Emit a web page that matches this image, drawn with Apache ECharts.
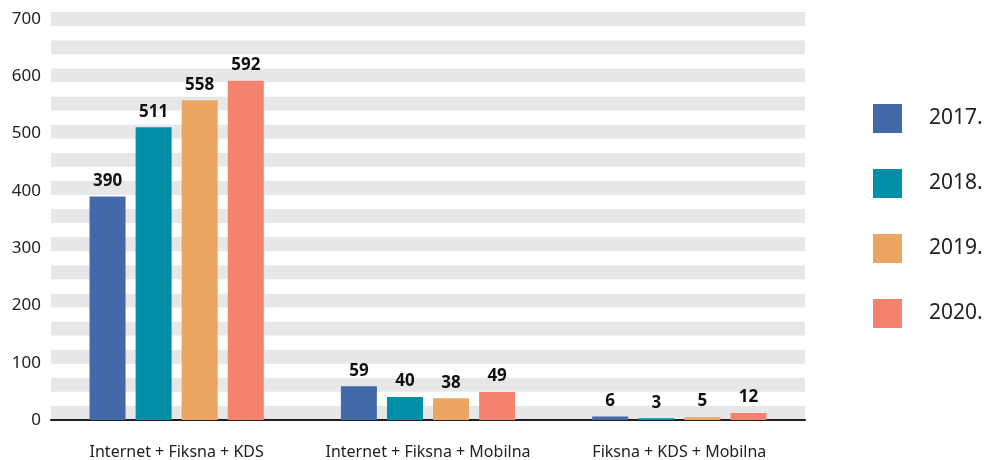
<!DOCTYPE html>
<html>
<head>
<meta charset="utf-8">
<script src="https://cdn.jsdelivr.net/npm/echarts@6/dist/echarts.min.js"></script>
<style>html,body{margin:0;padding:0;background:#fff}#c{width:995px;height:460px}</style>
</head>
<body>
<div id="c"></div>
<script>
var categories = ['Internet + Fiksna + KDS', 'Internet + Fiksna + Mobilna', 'Fiksna + KDS + Mobilna'];
var years = ['2017.', '2018.', '2019.', '2020.'];
var v2017 = [390, 59, 6];
var v2018 = [511, 40, 3];
var v2019 = [558, 38, 5];
var v2020 = [592, 49, 12];
var colors = ['#4369a8', '#008ea9', '#eba661', '#f4826f'];
var FONT = 'Noto Sans';

var chart = echarts.init(document.getElementById('c'), null, {renderer: 'canvas'});
var seriesData = [v2017, v2018, v2019, v2020];
var series = seriesData.map(function (d, i) {
  return {
    name: years[i],
    type: 'bar',
    data: d,
    barWidth: 36,
    barGap: '28%',
    itemStyle: {color: colors[i]},
    label: {
      show: true,
      position: 'top',
      distance: 7,
      fontFamily: FONT,
      fontWeight: 'bold',
      fontSize: 17,
      color: '#111'
    }
  };
});

chart.setOption({
  animation: false,
  color: colors,
  grid: {left: 51, right: 190, top: 12, bottom: 40},
  legend: {
    orient: 'vertical',
    left: 868,
    top: 99,
    itemWidth: 29,
    itemHeight: 29,
    itemGap: 36,
    icon: 'rect',
    textStyle: {fontFamily: FONT, fontSize: 21, color: '#222', padding: [0, 0, 0, 22]},
    data: years
  },
  xAxis: {
    type: 'category',
    data: categories,
    axisLine: {lineStyle: {color: '#231f20', width: 2}},
    axisTick: {show: false},
    axisLabel: {interval: 0, fontFamily: FONT, fontSize: 16, color: '#222', margin: 24}
  },
  yAxis: [{
    type: 'value',
    min: 0,
    max: 712,
    interval: 100,
    axisLine: {show: false},
    axisTick: {show: false},
    splitLine: {show: false},
    axisLabel: {fontFamily: FONT, fontSize: 17, color: '#222', margin: 10, showMaxLabel: false}
  }, {
    type: 'value',
    min: 0,
    max: 29,
    interval: 1,
    position: 'right',
    axisLine: {show: false},
    axisTick: {show: false},
    axisLabel: {show: false},
    splitLine: {show: false},
    splitArea: {show: true, areaStyle: {color: ['#e6e7e8', '#ffffff']}}
  }],
  series: series
});
</script>
</body>
</html>
